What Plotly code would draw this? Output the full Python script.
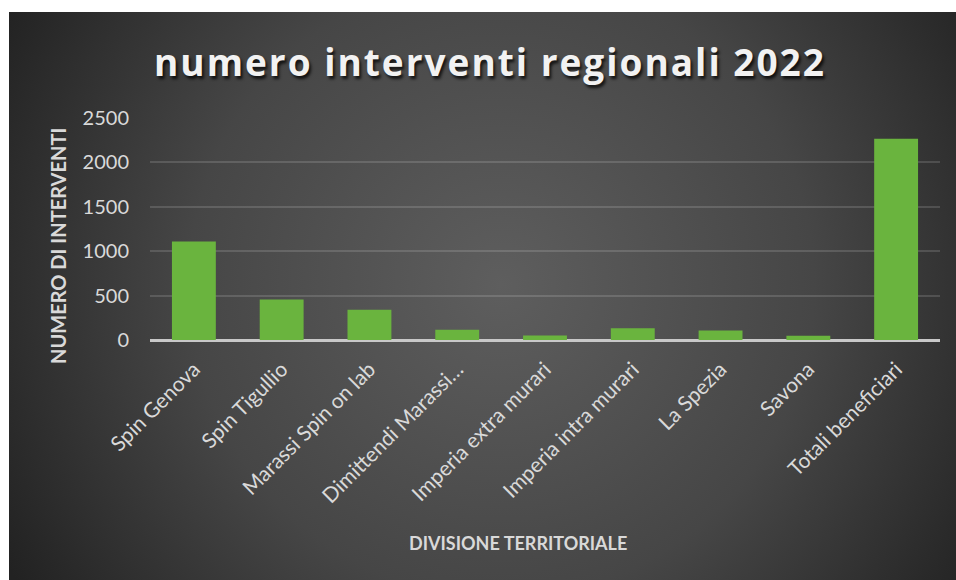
import base64
import plotly.graph_objects as go

categories = ["Spin Genova", "Spin Tigullio", "Marassi Spin on lab", "Dimittendi Marassi…",
              "Imperia extra murari", "Imperia intra murari", "La Spezia", "Savona",
              "Totali beneficiari"]
values = [1110, 455, 340, 115, 50, 133, 107, 47, 2265]
y_ticks = [0, 500, 1000, 1500, 2000, 2500]

W, H = 956, 580
L, R, T, B = 150, 16, 118, 240
pw, ph = W - L - R, H - T - B
OX, OY = 9, 12  # white frame at left/top of the picture

svg = f'''<svg xmlns="http://www.w3.org/2000/svg" width="{W}" height="{H}" viewBox="0 0 {W} {H}" preserveAspectRatio="none">
<defs><radialGradient id="g" gradientUnits="userSpaceOnUse" cx="{OX + (W - OX) * 0.52}" cy="{OY + (H - OY) * 0.48}" r="{(W - OX) * 0.6}">
<stop offset="0" stop-color="#5e5e5e"/><stop offset="0.55" stop-color="#464646"/><stop offset="1" stop-color="#222222"/>
</radialGradient></defs>
<rect x="0" y="0" width="{W}" height="{H}" fill="#ffffff"/>
<rect x="{OX}" y="{OY}" width="{W - OX}" height="{H - OY}" fill="url(#g)"/></svg>'''
src = "data:image/svg+xml;base64," + base64.b64encode(svg.encode()).decode()

def px2x(p):
    return (p - L) / pw

def py2y(p):
    return (H - B - p) / ph

fig = go.Figure()
fig.add_trace(go.Bar(x=categories, y=values, marker=dict(color="#6ab43e", line=dict(width=0)),
                     width=0.5, hoverinfo="x+y"))

fig.add_layout_image(dict(source=src, xref="paper", yref="paper",
                          x=px2x(0), y=py2y(0), sizex=px2x(W) - px2x(0),
                          sizey=py2y(0) - py2y(H), sizing="stretch", layer="below",
                          xanchor="left", yanchor="top"))

fig.update_layout(
    width=W, height=H,
    margin=dict(l=L, r=R, t=T, b=B, pad=0),
    paper_bgcolor="#242424", plot_bgcolor="rgba(0,0,0,0)",
    showlegend=False,
    font=dict(family="Lato, sans-serif", color="#d9d9d9"),
    xaxis=dict(tickangle=-45, tickfont=dict(size=21, color="#d9d9d9", family="Lato"),
               showgrid=False, showline=False, ticks="", ticklabelstandoff=12,
               zeroline=False),
    yaxis=dict(range=[0, 2500], tickvals=y_ticks, tickfont=dict(size=20, color="#d9d9d9", family="Lato"),
               showgrid=True, gridcolor="rgba(255,255,255,0.14)", gridwidth=2,
               zeroline=True, zerolinecolor="#c8c8c8", zerolinewidth=2.5,
               showline=False, ticks="", ticklabelstandoff=20),
    annotations=[
        dict(text="<b>numero interventi regionali 2022</b>", xref="paper", yref="paper",
             x=px2x(490), y=py2y(62), xanchor="center", yanchor="middle", showarrow=False,
             font=dict(family="Open Sans", size=37, color="#f2f2f2",
                       shadow="2px 3px 3px rgba(0,0,0,0.75)")),
        dict(text="<b>NUMERO DI INTERVENTI</b>", xref="paper", yref="paper",
             x=px2x(58), y=py2y(246), xanchor="center", yanchor="middle", showarrow=False,
             textangle=-90, font=dict(family="Lato", size=20, color="#d9d9d9")),
        dict(text="<b>DIVISIONE TERRITORIALE</b>", xref="paper", yref="paper",
             x=px2x(518), y=py2y(543), xanchor="center", yanchor="middle", showarrow=False,
             font=dict(family="Lato", size=18, color="#d9d9d9")),
    ],
)

post = """
var gd = document.getElementById('{plot_id}');
function spaceTitle(){
  var els = gd.querySelectorAll('.annotation-text');
  els.forEach(function(e){
    if (e.textContent.indexOf('numero interventi') === 0) {
      e.style.letterSpacing = '2px';
    }
  });
}
spaceTitle();
gd.on('plotly_afterplot', spaceTitle);
"""
fig.write_html("out.html", post_script=post)
